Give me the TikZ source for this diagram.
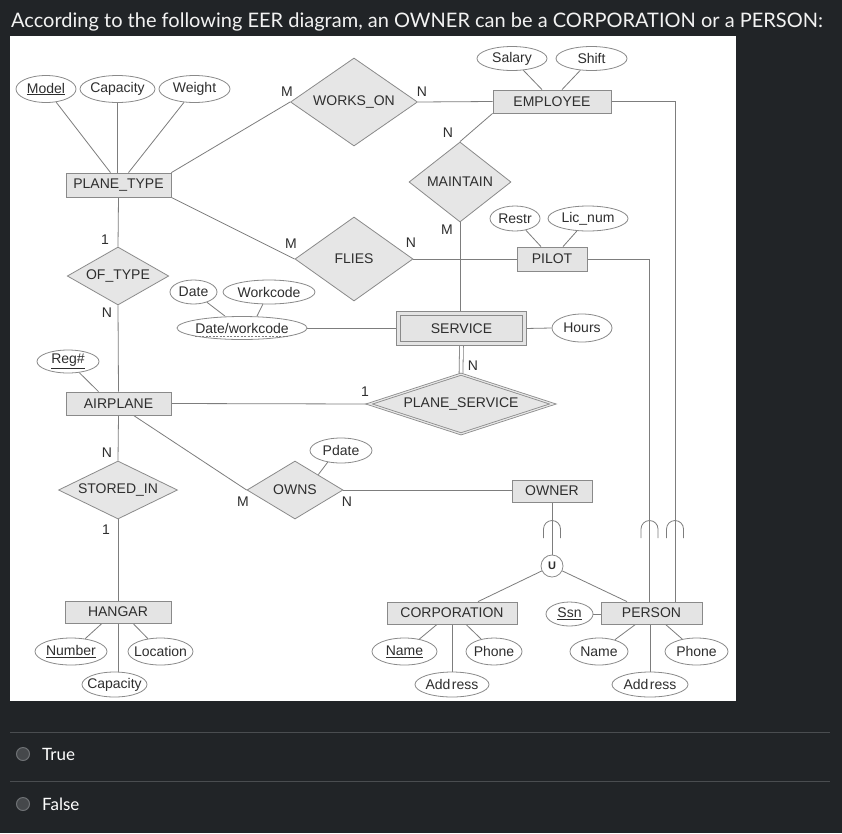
\documentclass[tikz,border=0pt]{standalone}
\usepackage{fontspec}
\setmainfont{Liberation Sans}
\newfontfamily\lato{Lato}
\usetikzlibrary{shapes.geometric,calc}
\pgfdeclarelayer{back}
\pgfdeclarelayer{edges}
\pgfsetlayers{back,edges,main}
\definecolor{pagebg}{HTML}{212427}
\definecolor{ln}{HTML}{7D7D7D}
\definecolor{bd}{HTML}{8A8A8A}
\definecolor{efill}{HTML}{E4E4E4}
\definecolor{rfill}{HTML}{E6E6E6}
\definecolor{tx}{HTML}{2E2E2E}
\definecolor{sepc}{HTML}{4A4D50}
\definecolor{radio}{HTML}{45484B}
\definecolor{radiob}{HTML}{6E7174}
\definecolor{titlec}{HTML}{F2F2F2}
\tikzset{
 every node/.style={text=tx, font=\fontsize{14}{16}\selectfont},
 ent/.style={draw=bd, fill=efill, line width=0.8pt, inner sep=0pt, rectangle},
 rel/.style={draw=bd, fill=rfill, line width=0.8pt, inner sep=0pt, shape=diamond, aspect=3},
 att/.style={draw=bd, fill=white, line width=0.8pt, inner xsep=-5pt, inner ysep=0pt, ellipse},
 lbl/.style={inner sep=0pt},
 conn/.style={draw=ln, line width=0.8pt},
 subset/.style={draw=ln, line width=0.8pt},
 uitext/.style={anchor=base west, inner sep=0pt, text=white, font=\lato\fontsize{17}{20}\selectfont},
 radiobtn/.style={circle, draw=radiob, fill=radio, line width=1pt, minimum size=13, inner sep=0pt},
}
\begin{document}
\begin{tikzpicture}[x=1pt,y=-1pt]
\useasboundingbox (0,0) rectangle (842,833);
\begin{pgfonlayer}{back}
\fill[pagebg] (0,0) rectangle (842,833);
\fill[white] (10,36) rectangle (736,701);
\end{pgfonlayer}

% title
\node[anchor=base west, inner sep=0pt, text=titlec, font=\lato\fontsize{20}{22}\selectfont] (title) at (11,27) {According to the following EER diagram, an OWNER can be a CORPORATION or a PERSON:};

% entities
\node[ent, minimum width=105, minimum height=24] (pt) at (118.5,185) {PLANE\_TYPE};
\node[ent, minimum width=118, minimum height=23] (emp) at (552,101.5) {EMPLOYEE};
\node[ent, minimum width=70, minimum height=24] (pilot) at (552,259) {PILOT};
\node[ent, minimum width=105, minimum height=23] (air) at (118.5,403.5) {AIRPLANE};
\node[ent, minimum width=106, minimum height=22] (hangar) at (118,612) {HANGAR};
\node[ent, minimum width=80, minimum height=22] (owner) at (552,491) {OWNER};
\node[ent, minimum width=130, minimum height=22] (corp) at (452,613) {CORPORATION};
\node[ent, minimum width=101, minimum height=22] (person) at (651.5,613) {PERSON};
\node[ent, double=efill, double distance=3.4pt, minimum width=126, minimum height=30] (service) at (461.5,328.5) {SERVICE};

% relationships
\node[rel, minimum width=127, minimum height=88] (works) at (354,102) {WORKS\_ON};
\node[rel, minimum width=102, minimum height=80] (maintain) at (460,182) {MAINTAIN};
\node[rel, minimum width=118, minimum height=84] (flies) at (354,259) {FLIES};
\node[rel, minimum width=98, minimum height=58] (oftype) at (118,276) {OF\_TYPE};
\node[rel, double=rfill, double distance=1.2pt, minimum width=184, minimum height=60] (pserv) at (461,404) {PLANE\_SERVICE};
\node[rel, minimum width=119, minimum height=58] (stored) at (118,490) {STORED\_IN};
\node[rel, minimum width=96, minimum height=58] (owns) at (295,490) {OWNS};

% attributes
\node[att, minimum width=60, minimum height=27] (model) at (46,89) {\underline{Model}};
\node[att, minimum width=75, minimum height=27] (cap1) at (117.5,89) {Capacity};
\node[att, minimum width=71, minimum height=27] (weight) at (194.5,89) {Weight};
\node[att, minimum width=70, minimum height=24] (salary) at (512,58.5) {Salary};
\node[att, minimum width=71, minimum height=24] (shift) at (591.5,58.5) {Shift};
\node[att, minimum width=50, minimum height=25] (restr) at (515,218.5) {Restr};
\node[att, minimum width=80, minimum height=25] (licnum) at (588,218.5) {Lic\_num};
\node[att, minimum width=47, minimum height=24] (date) at (193.5,292) {Date};
\node[att, minimum width=92, minimum height=24] (workcode) at (269,292) {Workcode};
\node[att, minimum width=130, minimum height=23] (dw) at (242,328) {Date/workcode};
\node[att, minimum width=60, minimum height=28] (hours) at (582,328) {Hours};
\node[att, minimum width=62, minimum height=23] (reg) at (68,361.5) {\underline{Reg\#}};
\node[att, minimum width=62, minimum height=25] (pdate) at (341,450.5) {Pdate};
\node[att, minimum width=72, minimum height=27] (number) at (71,651.5) {\underline{Number}};
\node[att, minimum width=65, minimum height=27] (location) at (160.5,651.5) {Location};
\node[att, minimum width=65, minimum height=25] (cap2) at (114.5,684.5) {Capacity};
\node[att, minimum width=65, minimum height=27] (cname) at (404.5,651.5) {\underline{Name}};
\node[att, minimum width=56, minimum height=27] (cphone) at (494,651.5) {Phone};
\node[att, minimum width=74, minimum height=25] (caddr) at (452,684.5) {Add\hspace{1.5pt}ress};
\node[att, minimum width=47, minimum height=24] (ssn) at (569.5,614) {\underline{Ssn}};
\node[att, minimum width=58, minimum height=27] (pname) at (599,651.5) {Name};
\node[att, minimum width=63, minimum height=27] (pphone) at (696.5,651.5) {Phone};
\node[att, minimum width=76, minimum height=25] (paddr) at (650,684.5) {Add\hspace{1.5pt}ress};

% union circle
\node[circle, draw=bd, fill=white, line width=0.8pt, minimum size=22, inner sep=0pt, font=\bfseries\fontsize{11}{12}\selectfont] (u) at (552,566) {U};

% cardinality labels
\node[lbl] (c1) at (287,92) {M};
\node[lbl] (c2) at (422,92) {N};
\node[lbl] (c3) at (448,133) {N};
\node[lbl] (c4) at (447,230) {M};
\node[lbl] (c5) at (291,244) {M};
\node[lbl] (c6) at (411,243) {N};
\node[lbl] (c7) at (105,240) {1};
\node[lbl] (c8) at (107,313) {N};
\node[lbl] (c9) at (365,392) {1};
\node[lbl] (c10) at (473,366) {N};
\node[lbl] (c11) at (107,453) {N};
\node[lbl] (c12) at (106,530) {1};
\node[lbl] (c13) at (243,502) {M};
\node[lbl] (c14) at (347,502) {N};

% bottom UI
\draw[sepc, line width=1pt] (10,732) -- (830,732);
\draw[sepc, line width=1pt] (10,781) -- (830,781);
\node[radiobtn] (r1) at (23,754) {};
\node[radiobtn] (r2) at (23,804) {};
\node[uitext] (t1) at (42,760) {True};
\node[uitext] (t2) at (42,810) {False};

% subset marks
\coordinate (s1) at (552,529);
\coordinate (s2) at (649.5,529);
\coordinate (s3) at (675,529);

\begin{pgfonlayer}{edges}
\draw[conn] (model) -- ($(pt.north)+(-8,0)$);
\draw[conn] (cap1.south) -- (cap1.south |- pt.north);
\draw[conn] (weight) -- ($(pt.north)+(10,0)$);
\draw[conn] (pt.north east) -- (works.west);
\draw[conn] (pt.south east) -- (flies.west);
\draw[conn] (works.east) -- (emp.west);
\draw[conn] (salary) -- ($(emp.north)+(-10,0)$);
\draw[conn] (shift) -- ($(emp.north)+(10,0)$);
\draw[conn] (emp.south west) -- (maintain.north);
\draw[conn] (emp.east) -| ($(person.north)+(23.5,0)$);
\draw[conn] (maintain.south) -- (maintain.south |- service.north);
\draw[conn] (flies.east) -- (pilot.west);
\draw[conn] (restr) -- ($(pilot.north)+(-11,0)$);
\draw[conn] (licnum) -- ($(pilot.north)+(11,0)$);
\draw[conn] (pilot.east) -| ($(person.north)+(-2,0)$);
\draw[conn] (pt.south) -- (oftype.north);
\draw[conn] (oftype.south) -- (air.north);
\draw[conn] (date) -- ($(dw.north)+(-17,0)$);
\draw[conn] (workcode) -- ($(dw.north)+(15,0)$);
\draw[conn] (dw.east) -- (dw.east -| service.west);
\draw[conn] (service.east) -- (hours.west);
\draw[conn, double=white, double distance=3pt] (service.south) -- (pserv.north);
\draw[conn] (reg) -- ($(air.north)+(-20,0)$);
\draw[conn] (air.east) -- (pserv.west);
\draw[conn] ($(air.south)+(15,0)$) -- (owns.west);
\draw[conn] (air.south) -- (stored.north);
\draw[conn] (stored.south) -- (hangar.north);
\draw[conn] ($(pdate.center)+(-13,11.3)$) -- ($(owns.north)!0.48!(owns.east)$);
\draw[conn] (owns.east) -- (owns.east -| owner.west);
\draw[conn] ($(hangar.south)+(-16,0)$) -- (number);
\draw[conn] (hangar.south) -- (hangar.south |- cap2.north);
\draw[conn] ($(hangar.south)+(15,0)$) -- (location);
\draw[conn] (owner.south) -- (u.north);
\draw[conn] (u) -- ($(corp.north)+(26,0)$);
\draw[conn] (u) -- ($(person.north)+(-24.5,0)$);
\draw[conn] ($(corp.south)+(-15,0)$) -- (cname);
\draw[conn] (corp.south) -- (caddr.north);
\draw[conn] ($(corp.south)+(14,0)$) -- (cphone);
\draw[conn] (ssn.east) -- (ssn.east -| person.west);
\draw[conn] ($(person.south)+(-16,0)$) -- (pname);
\draw[conn] (paddr.north) -- (paddr.north |- person.south);
\draw[conn] ($(person.south)+(14,0)$) -- (pphone);
\end{pgfonlayer}

% dashed underline of partial key
\draw[draw=ln, line width=0.5pt, dash pattern=on 2pt off 1.5pt] ($(dw.center)+(-47,8)$) -- ($(dw.center)+(47,8)$);

% subset symbols
\foreach \s in {s1,s2,s3}{
 \draw[subset] ($(\s)+(-8.5,9)$) -- ++(0,-9) arc[start angle=180,end angle=0,radius=8.5pt] -- ++(0,9);
}
\end{tikzpicture}
\end{document}
